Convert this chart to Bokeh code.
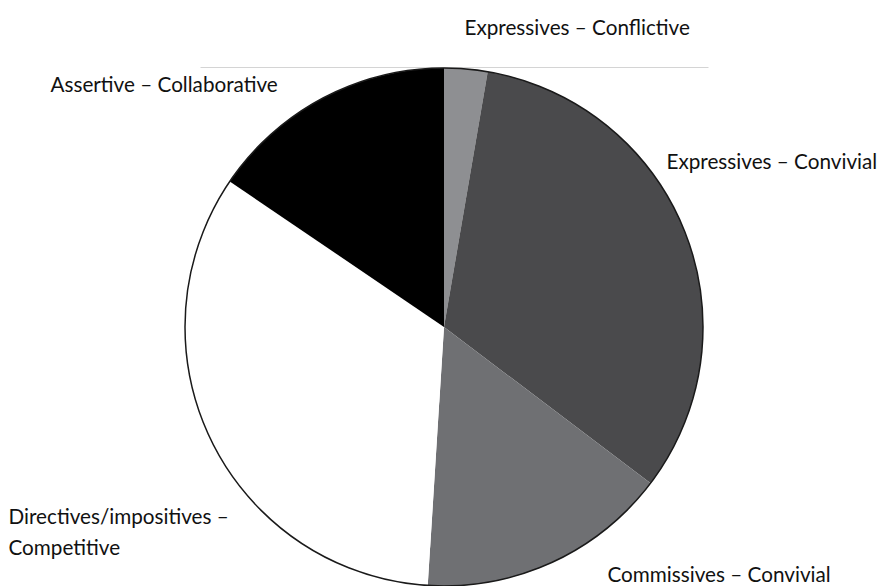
import math
from bokeh.plotting import figure
from bokeh.models import Range1d, ColumnDataSource
from bokeh.core.properties import value
from bokeh.embed import file_html
from bokeh.resources import INLINE

categories = [
    "Expressives \u2013 Conflictive",
    "Expressives \u2013 Convivial",
    "Commissives \u2013 Convivial",
    "Directives/impositives \u2013\nCompetitive",
    "Assertive \u2013 Collaborative",
]
values = [2.7, 32.6, 15.7, 33.5, 15.5]
colors = ["#8e8f92", "#4a4a4c", "#6f7073", "#ffffff", "#000000"]

W, H = 887, 586
p = figure(width=W, height=H, output_backend="svg", toolbar_location=None,
           x_range=Range1d(0, W), y_range=Range1d(0, H), min_border=0)
p.axis.visible = False
p.grid.visible = False
p.outline_line_color = None
p.background_fill_color = "white"
p.border_fill_color = "white"

def px(x):
    return x
def py(y):
    return H - y

cx, cy, r = px(443.5), py(326.5), 259

total = sum(values)
starts, ends = [], []
cum = 0.0
for v in values:
    a0 = math.pi / 2 - cum / total * 2 * math.pi
    cum += v
    a1 = math.pi / 2 - cum / total * 2 * math.pi
    starts.append(a0)
    ends.append(a1)

src = ColumnDataSource(dict(start=starts, end=ends, color=colors,
                            x=[cx] * len(values), y=[cy] * len(values)))

# faint top rule
p.segment(x0=[px(200)], y0=[py(67)], x1=[px(708)], y1=[py(67)],
          line_color="#d4d4d4", line_width=1)

p.wedge(x="x", y="y", radius=r, start_angle="start", end_angle="end",
        direction="clock", fill_color="color", line_color=None, source=src)
p.circle(x=[cx], y=[cy], radius=r, fill_color=None, line_color="#1a1a1a", line_width=1.5)

label_x = [464, 666, 607, 8, 50]
label_y = [26.5, 160.5, 573, 515, 83]
font = value("Lato")
for name, lx, ly in zip(categories, label_x, label_y):
    lines = name.split("\n")
    for i, line in enumerate(lines):
        p.text(x=[px(lx)], y=[py(ly + i * 31)], text=[line], text_font=font,
               text_font_size="20.7px", text_baseline="alphabetic", text_align="left",
               text_color="#111111")

open("out.html", "w").write(file_html(p, INLINE))
